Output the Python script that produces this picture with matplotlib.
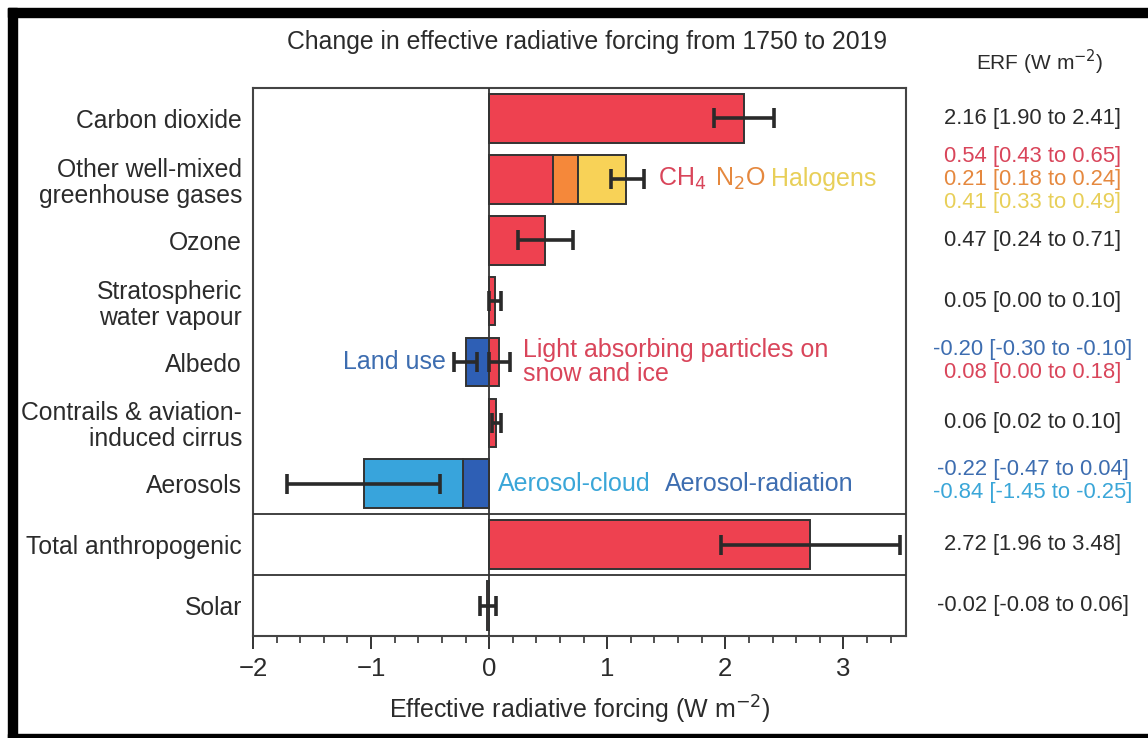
import matplotlib
matplotlib.use("Agg")
import matplotlib.pyplot as plt
from matplotlib.patches import Rectangle
from matplotlib.transforms import blended_transform_factory
from matplotlib.ticker import MultipleLocator

plt.rcParams['font.family'] = ['Liberation Sans', 'DejaVu Sans']

# ---------------- data ----------------
categories = ["Carbon dioxide", "Other well-mixed\ngreenhouse gases", "Ozone",
              "Stratospheric\nwater vapour", "Albedo", "Contrails & aviation-\ninduced cirrus",
              "Aerosols", "Total anthropogenic", "Solar"]

# single-component rows: (row index, value, low, high)
single_rows = [0, 2, 3, 5, 7, 8]
single_vals = [2.16, 0.47, 0.05, 0.06, 2.72, -0.02]
single_low = [1.90, 0.24, 0.00, 0.02, 1.96, -0.08]
single_high = [2.41, 0.71, 0.10, 0.10, 3.48, 0.06]

# other well-mixed GHGs stacked: CH4, N2O, Halogens
ghg_names = ["CH$_4$", "N$_2$O", "Halogens"]
ghg_vals = [0.54, 0.21, 0.41]
ghg_total_low, ghg_total_high = 1.03, 1.31

# albedo: land use (negative), light absorbing particles (positive)
landuse_val, landuse_low, landuse_high = -0.20, -0.30, -0.10
lap_val, lap_low, lap_high = 0.08, 0.00, 0.18

# aerosols stacked: aerosol-radiation, aerosol-cloud
aer_rad_val = -0.22
aer_cloud_val = -0.84
aer_total_low, aer_total_high = -1.71, -0.42

# right-hand ERF text column: (row, offset, text, colour-key)
erf_text = [
    (0, 0.0, "2.16 [1.90 to 2.41]", "dark"),
    (1, -0.38, "0.54 [0.43 to 0.65]", "red"),
    (1, 0.0, "0.21 [0.18 to 0.24]", "orange"),
    (1, 0.38, "0.41 [0.33 to 0.49]", "yellow"),
    (2, 0.0, "0.47 [0.24 to 0.71]", "dark"),
    (3, 0.0, "0.05 [0.00 to 0.10]", "dark"),
    (4, -0.21, "-0.20 [-0.30 to -0.10]", "blue"),
    (4, 0.17, "0.08 [0.00 to 0.18]", "red"),
    (5, 0.0, "0.06 [0.02 to 0.10]", "dark"),
    (6, -0.23, "-0.22 [-0.47 to 0.04]", "blue"),
    (6, 0.15, "-0.84 [-1.45 to -0.25]", "lblue"),
    (7, 0.0, "2.72 [1.96 to 3.48]", "dark"),
    (8, 0.0, "-0.02 [-0.08 to 0.06]", "dark"),
]

xticks = [-2, -1, 0, 1, 2, 3]

# ---------------- styles ----------------
bar_red = "#EE4150"
bar_orange = "#F5883A"
bar_yellow = "#F8D257"
bar_dblue = "#2E5FB5"
bar_lblue = "#38A4DC"
txt = {"dark": "#2b2b2b", "red": "#D9455A", "orange": "#E5883E",
       "yellow": "#E8CF58", "blue": "#3D6DB0", "lblue": "#3AA6D8"}
edge = "#333333"
ecol = "#2a2a2a"
H = 0.8
ekw = dict(fmt="none", ecolor=ecol, elinewidth=2.6, capsize=7, capthick=2.6, zorder=5)

W, Hpx = 1148, 738
fig = plt.figure(figsize=(W / 100, Hpx / 100), dpi=100)
ax = fig.add_axes([253 / W, 1 - 636 / Hpx, (906 - 253) / W, (636 - 88) / Hpx])

# single bars
ax.barh(single_rows, single_vals, height=H, color=bar_red, edgecolor=edge, linewidth=1.4, zorder=3)
for r, v, lo, hi in zip(single_rows, single_vals, single_low, single_high):
    ax.errorbar(v, r, xerr=[[v - lo], [hi - v]], **ekw)

# GHG stacked
left = 0.0
for v, c in zip(ghg_vals, [bar_red, bar_orange, bar_yellow]):
    ax.barh(1, v, left=left, height=H, color=c, edgecolor=edge, linewidth=1.4, zorder=3)
    left += v
ghg_total = left
ax.errorbar(ghg_total, 1, xerr=[[ghg_total - ghg_total_low], [ghg_total_high - ghg_total]], **ekw)

# albedo
ax.barh(4, landuse_val, height=H, color=bar_dblue, edgecolor=edge, linewidth=1.4, zorder=3)
ax.barh(4, lap_val, height=H, color=bar_red, edgecolor=edge, linewidth=1.4, zorder=3)
ax.errorbar(landuse_val, 4, xerr=[[landuse_val - landuse_low], [landuse_high - landuse_val]], **ekw)
ax.errorbar(lap_val, 4, xerr=[[lap_val - lap_low], [lap_high - lap_val]], **ekw)

# aerosols
ax.barh(6, aer_rad_val, height=H, color=bar_dblue, edgecolor=edge, linewidth=1.4, zorder=3)
ax.barh(6, aer_cloud_val, left=aer_rad_val, height=H, color=bar_lblue, edgecolor=edge, linewidth=1.4, zorder=3)
aer_total = aer_rad_val + aer_cloud_val
ax.errorbar(aer_total, 6, xerr=[[aer_total - aer_total_low], [aer_total_high - aer_total]], **ekw)

# axes setup
ax.set_xlim(-2, 3.53)
ax.set_ylim(8.5, -0.5)
ax.axvline(0, color=edge, lw=1.3, zorder=4)
ax.axhline(6.5, color=edge, lw=1.3, zorder=4)
ax.axhline(7.5, color=edge, lw=1.3, zorder=4)
ax.set_yticks(range(len(categories)))
ax.set_yticklabels(categories, fontsize=17.8, color="#2b2b2b", linespacing=1.1, multialignment="right")
ax.tick_params(axis="y", length=0, pad=8)
ax.set_xticks(xticks)
ax.set_xticklabels([str(t).replace("-", "\u2212") for t in xticks], fontsize=18.5, color="#2b2b2b")
ax.xaxis.set_minor_locator(MultipleLocator(0.2))
ax.tick_params(axis="x", which="major", direction="out", length=9, width=1.4, color=edge, pad=6)
ax.tick_params(axis="x", which="minor", direction="out", length=5, width=1.2, color=edge)
for s in ax.spines.values():
    s.set_color("#444444")
    s.set_linewidth(1.5)
ax.set_xlabel("Effective radiative forcing (W m$^{-2}$)", fontsize=18, color="#2b2b2b", labelpad=9)

# in-plot annotations
ax.text(1.43, 1, ghg_names[0], color=txt["red"], fontsize=18, va="center", ha="left")
ax.text(1.91, 1, ghg_names[1], color=txt["orange"], fontsize=18, va="center", ha="left")
ax.text(2.39, 1, ghg_names[2], color=txt["yellow"], fontsize=18, va="center", ha="left")
ax.text(-0.37, 4, "Land use", color=txt["blue"], fontsize=18, va="center", ha="right")
ax.text(0.29, 4, "Light absorbing particles on\nsnow and ice", color=txt["red"], fontsize=18,
        va="center", ha="left", linespacing=1.05)
ax.text(0.075, 6, "Aerosol-cloud", color=txt["lblue"], fontsize=18, va="center", ha="left")
ax.text(1.49, 6, "Aerosol-radiation", color=txt["blue"], fontsize=18, va="center", ha="left")

# title and ERF column
fig.text(587 / W, 1 - 42 / Hpx, "Change in effective radiative forcing from 1750 to 2019",
         fontsize=17.8, color="#2b2b2b", ha="center", va="center")
fig.text(1040 / W, 1 - 62 / Hpx, "ERF (W m$^{-2}$)", fontsize=15, color="#2b2b2b", ha="center", va="center")
tr = blended_transform_factory(fig.transFigure, ax.transData)
for r, off, s, ck in erf_text:
    ax.text(1033 / W, r + off, s, transform=tr, fontsize=15.8, color=txt[ck],
            ha="center", va="center", clip_on=False)

# black frame of the screenshot
for (x0, y0, w, h) in [(8, 8, 9, 730), (8, 8, 1140, 9), (8, 734, 1140, 4)]:
    fig.patches.append(Rectangle((x0 / W, 1 - (y0 + h) / Hpx), w / W, h / Hpx,
                                 transform=fig.transFigure, color="black", zorder=10))

fig.savefig("out.png", dpi=100)
